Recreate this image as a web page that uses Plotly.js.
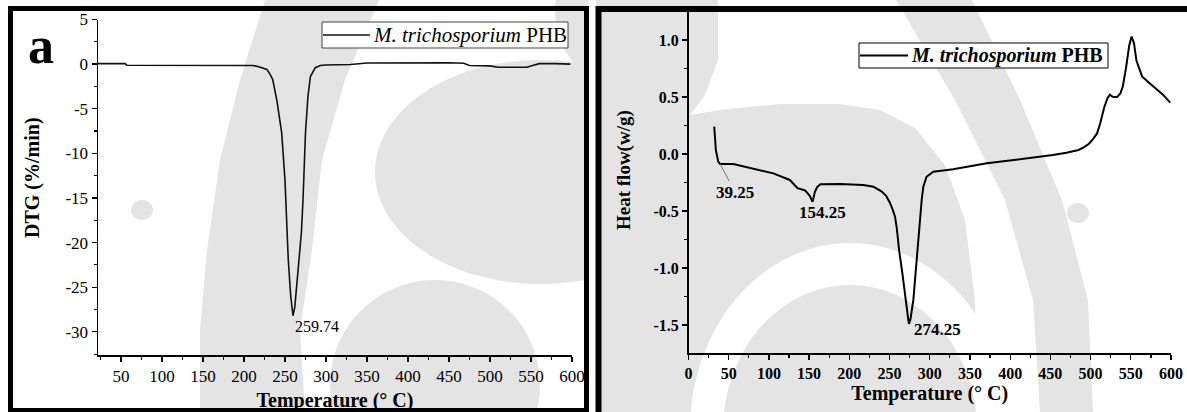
<!DOCTYPE html>
<html>
<head>
<meta charset="utf-8">
<script src="https://cdn.plot.ly/plotly-3.0.1.min.js"></script>
<style>
  html, body { margin: 0; padding: 0; background: #ffffff; }
  #chart { width: 1187px; height: 412px; }
</style>
</head>
<body>
<div id="chart"></div>
<script>
// ---- (a) DTG curve of M. trichosporium PHB ----
const dtgTemp = [22, 40, 55, 57, 100, 150, 200, 211, 218, 224, 228, 231, 235, 240, 246, 250, 252, 254, 257,
                 259.74, 262, 265, 270, 272, 275, 278, 281, 287, 293, 300, 330, 350, 400, 450, 468, 475,
                 500, 510, 520, 545, 552, 560, 580, 598];
const dtgValue = [0.05, 0.05, 0.05, -0.12, -0.12, -0.12, -0.12, -0.15, -0.3, -0.45, -0.6, -1.0, -1.7, -4.0, -7.7, -13.0, -17.4, -21.9, -26.0,
                  -28.2, -27.2, -24.2, -18.9, -15.2, -7.7, -3.6, -1.4, -0.4, -0.15, -0.1, -0.05, 0.12, 0.15, 0.15, 0.1, -0.15,
                  -0.2, -0.35, -0.35, -0.35, -0.15, 0.05, 0.05, 0.0];
const dtgPeaks = [259.74];

// ---- (b) DSC heat flow of M. trichosporium PHB ----
const dscTemp = [32, 34, 37, 39.25, 55.7, 80.6, 105.5, 126, 135.6, 145, 151, 154.25, 157.3, 160, 164, 188.4, 217.4, 230,
                 240.3, 246, 250.6, 254, 256.8, 259, 262, 266, 270, 273.4, 274.25, 276, 279.6, 283.8, 288, 290, 292, 296, 304.5,
                 329, 371, 412, 453, 470, 485, 492, 498, 503, 508, 512, 517, 521, 524, 528, 533, 537, 540, 544, 548, 551,
                 554, 557, 564, 572, 579, 590, 599];
const dscValue = [0.24, 0.035, -0.067, -0.088, -0.088, -0.126, -0.17, -0.228, -0.30, -0.32, -0.37, -0.42, -0.33, -0.29, -0.265, -0.263, -0.272, -0.287,
                  -0.33, -0.37, -0.43, -0.49, -0.55, -0.65, -0.85, -1.05, -1.3, -1.46, -1.49, -1.45, -1.28, -0.9, -0.55, -0.4, -0.287, -0.2, -0.155,
                  -0.134, -0.082, -0.047, -0.009, 0.01, 0.035, 0.06, 0.09, 0.13, 0.18, 0.27, 0.41, 0.49, 0.52, 0.50, 0.50, 0.53, 0.59, 0.75, 0.95, 1.03,
                  0.97, 0.82, 0.68, 0.63, 0.59, 0.52, 0.45];
const dscPeaks = [39.25, 154.25, 274.25];

// ---- axis ticks ----
const dtgXTicks = [50, 100, 150, 200, 250, 300, 350, 400, 450, 500, 550, 600];
const dtgYTicks = [-30, -25, -20, -15, -10, -5, 0, 5];
const dscXTicks = [0, 50, 100, 150, 200, 250, 300, 350, 400, 450, 500, 550, 600];
const dscYTicks = [-1.5, -1.0, -0.5, 0.0, 0.5, 1.0];

const seriesName = '<i>M. trichosporium</i> PHB';
const W = 1187, H = 412;
const SERIF = 'Liberation Serif, Times New Roman, serif';

// pixel -> paper helpers for the page decoration
const px = x => x / W;
const py = y => 1 - y / H;
function valueAt(ts, vs, t) { return vs[ts.indexOf(t)]; }

function poly(pts, color, layer) {
  return {
    type: 'path', xref: 'paper', yref: 'paper', layer: layer || 'below',
    path: 'M' + pts.map(p => px(p[0]).toFixed(5) + ',' + py(p[1]).toFixed(5)).join('L') + 'Z',
    fillcolor: color, line: { width: 0 }
  };
}
function ellipse(cx, cy, rx, ry, color, clipX) {
  const pts = [];
  for (let a = 0; a < 360; a += 4) {
    const r = a * Math.PI / 180;
    let x = cx + rx * Math.cos(r);
    if (clipX !== undefined) x = Math.min(x, clipX);
    pts.push([x, cy + ry * Math.sin(r)]);
  }
  return poly(pts, color);
}

// faint page emblem behind both panels
const WM = '#e4e4e4';
const watermark = [
  ellipse(640, 10, 85, 85, WM, 588),
  ellipse(540, 172, 165, 112, WM, 588),
  ellipse(435, 385, 105, 105, WM),
  poly([[265, 0], [379, 0], [345, 80], [322, 160], [312, 250], [300, 330], [305, 412],
        [200, 412], [200, 330], [207, 250], [220, 160], [240, 80]], WM),
  ellipse(142, 210, 11, 10, WM),
  poly([[596, 0], [718, 0], [718, 60], [705, 95], [690, 115], [720, 110], [780, 104], [840, 104],
        [880, 110], [915, 128], [945, 165], [965, 220], [975, 300], [978, 412], [596, 412]], WM),
  ellipse(850, 430, 160, 187, '#ffffff'),
  ellipse(850, 430, 127, 145, WM),
  poly([[896, 0], [972, 0], [1020, 100], [1062, 200], [1088, 300], [1093, 412],
        [1040, 412], [1033, 300], [1005, 200], [955, 100]], WM),
  ellipse(1078, 213, 11, 10, WM)
];

// thick panel frames
const frames = [
  { type: 'rect', xref: 'paper', yref: 'paper', layer: 'above', x0: px(10.5), x1: px(586.5), y0: py(410.5), y1: py(8.5),
    line: { color: '#000', width: 5 }, fillcolor: 'rgba(0,0,0,0)' },
  { type: 'rect', xref: 'paper', yref: 'paper', layer: 'above', x0: px(598.5), x1: px(1200), y0: py(430), y1: py(9),
    line: { color: '#000', width: 6 }, fillcolor: 'rgba(0,0,0,0)' }
];

// legend boxes with their line samples
const legendBoxes = [
  { type: 'rect', xref: 'paper', yref: 'paper', layer: 'above', x0: px(322), x1: px(568), y0: py(48), y1: py(22),
    line: { color: '#444', width: 1 }, fillcolor: '#ffffff' },
  { type: 'line', xref: 'paper', yref: 'paper', layer: 'above', x0: px(323), x1: px(370), y0: py(35), y1: py(35),
    line: { color: '#111', width: 1.6 } },
  { type: 'rect', xref: 'paper', yref: 'paper', layer: 'above', x0: px(859), x1: px(1108), y0: py(68), y1: py(43),
    line: { color: '#000', width: 1 }, fillcolor: '#ffffff' },
  { type: 'line', xref: 'paper', yref: 'paper', layer: 'above', x0: px(860), x1: px(908), y0: py(55.5), y1: py(55.5),
    line: { color: '#000', width: 2 } }
];

const traces = [
  { x: dtgTemp, y: dtgValue, xaxis: 'x', yaxis: 'y', type: 'scatter', mode: 'lines',
    name: seriesName, line: { color: '#111', width: 1.6 } },
  { x: dscTemp, y: dscValue, xaxis: 'x2', yaxis: 'y2', type: 'scatter', mode: 'lines',
    name: seriesName, line: { color: '#000', width: 2 } }
];

function axisBase(bold, size) {
  return {
    showline: true, linecolor: '#000', linewidth: 1.5, mirror: false,
    ticks: 'outside', ticklen: 5, tickwidth: 1.3, tickcolor: '#000',
    showgrid: false, zeroline: false, tickmode: 'array',
    tickfont: { family: SERIF, size: size, color: '#000', weight: bold ? 'bold' : 'normal' }
  };
}

const layout = {
  width: W, height: H,
  margin: { l: 0, r: 0, t: 0, b: 0 },
  paper_bgcolor: '#ffffff', plot_bgcolor: 'rgba(0,0,0,0)',
  showlegend: false,
  xaxis: Object.assign(axisBase(false, 17), {
    domain: [px(98), px(572)], range: [22, 600], anchor: 'y',
    tickvals: dtgXTicks, ticktext: dtgXTicks.map(String),
    minor: { tickmode: 'linear', tick0: 0, dtick: 25, ticks: 'outside', ticklen: 3, tickcolor: '#000', tickwidth: 1.2 },
    title: { text: 'Temperature (° C)', standoff: 9, font: { family: SERIF, size: 20, color: '#000', weight: 'bold' } }
  }),
  yaxis: Object.assign(axisBase(false, 17), {
    domain: [py(355), py(19.5)], range: [-32.6, 5], anchor: 'x',
    tickvals: dtgYTicks, ticktext: dtgYTicks.map(String),
    minor: { tickmode: 'linear', tick0: 0, dtick: 2.5, ticks: 'outside', ticklen: 3, tickcolor: '#000', tickwidth: 1.2 }
  }),
  xaxis2: Object.assign(axisBase(true, 16), {
    domain: [px(688.5), px(1171)], range: [0, 600], anchor: 'y2',
    tickvals: dscXTicks, ticktext: dscXTicks.map(String),
    minor: { tickmode: 'linear', tick0: 0, dtick: 25, ticks: 'outside', ticklen: 3, tickcolor: '#000', tickwidth: 1.2 },
    title: { text: 'Temperature (° C)', standoff: 5, font: { family: SERIF, size: 20, color: '#000', weight: 'bold' } }
  }),
  yaxis2: Object.assign(axisBase(true, 16), {
    domain: [py(353.3), py(12)], range: [-1.748, 1.245], anchor: 'x2',
    tickvals: dscYTicks, ticktext: dscYTicks.map(v => v.toFixed(1)),
    minor: { tickmode: 'linear', tick0: 0, dtick: 0.25, ticks: 'outside', ticklen: 3, tickcolor: '#000', tickwidth: 1.2 }
  }),
  shapes: watermark.concat(frames, legendBoxes),
  annotations: [
    { xref: 'paper', yref: 'paper', x: px(40.5), y: py(46), text: 'a', showarrow: false,
      xanchor: 'center', yanchor: 'middle', font: { family: SERIF, size: 52, color: '#000', weight: 'bold' } },
    // y-axis titles
    { xref: 'paper', yref: 'paper', x: px(32), y: py(178), text: 'DTG (%/min)', textangle: -90, showarrow: false,
      xanchor: 'center', yanchor: 'middle', font: { family: SERIF, size: 20, color: '#000', weight: 'bold' } },
    { xref: 'paper', yref: 'paper', x: px(624), y: py(170), text: 'Heat flow(w/g)', textangle: -90, showarrow: false,
      xanchor: 'center', yanchor: 'middle', font: { family: SERIF, size: 19, color: '#000', weight: 'bold' } },
    // legend entries
    { xref: 'paper', yref: 'paper', x: px(371), y: py(35), text: seriesName, showarrow: false,
      xanchor: 'left', yanchor: 'middle', font: { family: SERIF, size: 21, color: '#000' } },
    { xref: 'paper', yref: 'paper', x: px(909), y: py(55.5), text: seriesName, showarrow: false,
      xanchor: 'left', yanchor: 'middle', font: { family: SERIF, size: 20, color: '#000', weight: 'bold' } }
  ]
};

// peak labels, placed at the curve value for each labelled temperature
dtgPeaks.forEach(t => {
  layout.annotations.push({ xref: 'x', yref: 'y', x: t, y: valueAt(dtgTemp, dtgValue, t), text: t.toFixed(2),
    showarrow: false, xanchor: 'left', yanchor: 'middle', xshift: 0, yshift: -11,
    font: { family: SERIF, size: 16, color: '#000' } });
});
const dscLabelStyle = [
  { showarrow: true, arrowhead: 0, arrowwidth: 1, arrowcolor: '#777', ax: 15, ay: 28, standoff: 0 },
  { showarrow: false, xanchor: 'center', yanchor: 'middle', xshift: 10, yshift: -11 },
  { showarrow: false, xanchor: 'left', yanchor: 'middle', xshift: 3, yshift: -6 }
];
dscPeaks.forEach((t, i) => {
  layout.annotations.push(Object.assign({ xref: 'x2', yref: 'y2', x: t, y: valueAt(dscTemp, dscValue, t), text: t.toFixed(2),
    font: { family: SERIF, size: 17, color: '#000', weight: 'bold' } }, dscLabelStyle[i]));
});

Plotly.newPlot('chart', traces, layout, { displayModeBar: false, staticPlot: true });
</script>
</body>
</html>
